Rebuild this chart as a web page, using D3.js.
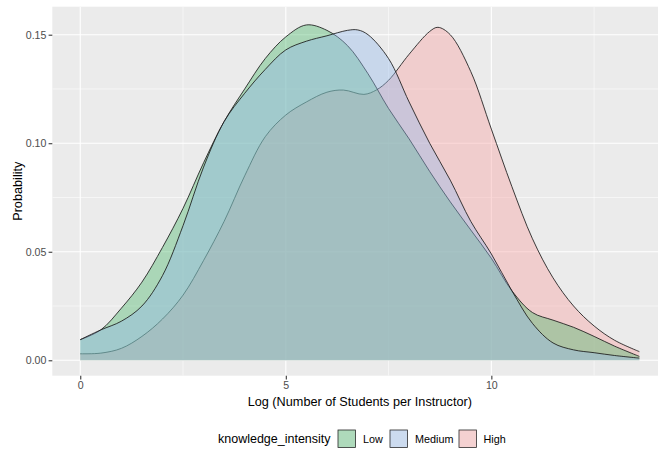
<!DOCTYPE html>
<html><head><meta charset="utf-8">
<script src="https://cdn.jsdelivr.net/npm/d3@7"></script>
<style>body{margin:0;background:#fff;} svg{display:block;font-family:"Liberation Sans",Arial,sans-serif;}</style>
</head><body><svg id="c" width="658" height="450"></svg>
<script>
// ---- data ----
const categories = ["Low", "Medium", "High"];
const drawOrder = ["High", "Low", "Medium"];
const fillColors = ["#48B669", "#94B9EB", "#F7A0A0"];

const lowX = [0, 0.5, 1.0, 1.5, 2.0, 2.5, 3.0, 3.5, 4.0, 4.5, 5.0, 5.5, 6.0, 6.5, 7.0, 7.5, 8.0, 8.5, 9.0, 9.5, 10.0, 10.5, 11.0, 11.5, 12.0, 12.5, 13.0, 13.6];
const lowY = [0.0095, 0.014, 0.024, 0.036, 0.052, 0.070, 0.091, 0.110, 0.125, 0.139, 0.149, 0.1545, 0.152, 0.145, 0.132, 0.116, 0.102, 0.087, 0.073, 0.060, 0.047, 0.032, 0.022, 0.0185, 0.0152, 0.011, 0.0065, 0.0018];

const mediumX = [0, 0.5, 1.0, 1.5, 2.0, 2.5, 3.0, 3.5, 4.0, 4.5, 5.0, 5.5, 6.0, 6.5, 6.75, 7.0, 7.5, 8.0, 8.5, 9.0, 9.5, 10.0, 10.5, 11.0, 11.5, 12.0, 12.5, 13.0, 13.6];
const mediumY = [0.0095, 0.014, 0.018, 0.025, 0.039, 0.062, 0.089, 0.110, 0.123, 0.134, 0.143, 0.147, 0.1495, 0.152, 0.1522, 0.150, 0.139, 0.119, 0.100, 0.083, 0.064, 0.049, 0.032, 0.017, 0.008, 0.0048, 0.0035, 0.0022, 0.001];

const highX = [0, 0.5, 1.0, 1.5, 2.0, 2.5, 3.0, 3.5, 4.0, 4.5, 5.0, 5.5, 6.0, 6.4, 6.9, 7.2, 7.5, 8.0, 8.5, 8.7, 9.0, 9.5, 10.0, 10.5, 11.0, 11.5, 12.0, 12.5, 13.0, 13.6];
const highY = [0.003, 0.0033, 0.0055, 0.011, 0.019, 0.030, 0.046, 0.064, 0.085, 0.103, 0.113, 0.119, 0.1235, 0.1245, 0.1225, 0.1245, 0.129, 0.141, 0.1515, 0.1534, 0.150, 0.133, 0.1065, 0.080, 0.056, 0.038, 0.025, 0.0158, 0.0092, 0.004];

const xTickValues = [0, 5, 10];
const xTickLabels = ["0", "5", "10"];
const xMinorValues = [2.5, 7.5, 12.5];
const yTickValues = [0, 0.05, 0.10, 0.15];
const yTickLabels = ["0.00", "0.05", "0.10", "0.15"];
const yMinorValues = [0.025, 0.075, 0.125];

const xTitle = "Log (Number of Students per Instructor)";
const yTitle = "Probability";
const legendTitle = "knowledge_intensity";

// ---- build ----
const series = {
  Low: lowX.map((v, i) => [v, lowY[i]]),
  Medium: mediumX.map((v, i) => [v, mediumY[i]]),
  High: highX.map((v, i) => [v, highY[i]])
};
const color = d3.scaleOrdinal(categories, fillColors);

const P = {left: 52.3, right: 667.3, top: 6.7, bottom: 375.7};
const x = d3.scaleLinear().domain([-0.68, 14.28]).range([P.left, P.right]);
const y = d3.scaleLinear().domain([-0.0071, 0.1629]).range([P.bottom, P.top]);

const svg = d3.select("#c");
svg.append("defs").append("clipPath").attr("id", "clip")
  .append("rect").attr("x", P.left).attr("y", P.top).attr("width", P.right - P.left).attr("height", P.bottom - P.top);

svg.append("rect").attr("x", P.left).attr("y", P.top).attr("width", P.right - P.left).attr("height", P.bottom - P.top).attr("fill", "#EBEBEB");

const grid = svg.append("g").attr("clip-path", "url(#clip)");
grid.selectAll(".xm").data(xMinorValues).join("line")
  .attr("x1", d => x(d)).attr("x2", d => x(d)).attr("y1", P.top).attr("y2", P.bottom)
  .attr("stroke", "#fff").attr("stroke-width", 0.55);
grid.selectAll(".ym").data(yMinorValues).join("line")
  .attr("y1", d => y(d)).attr("y2", d => y(d)).attr("x1", P.left).attr("x2", P.right)
  .attr("stroke", "#fff").attr("stroke-width", 0.55);
grid.selectAll(".xM").data(xTickValues).join("line")
  .attr("x1", d => x(d)).attr("x2", d => x(d)).attr("y1", P.top).attr("y2", P.bottom)
  .attr("stroke", "#fff").attr("stroke-width", 1.1);
grid.selectAll(".yM").data(yTickValues).join("line")
  .attr("y1", d => y(d)).attr("y2", d => y(d)).attr("x1", P.left).attr("x2", P.right)
  .attr("stroke", "#fff").attr("stroke-width", 1.1);

const curve = d3.curveCatmullRom.alpha(0.5);
const area = d3.area().x(d => x(d[0])).y0(y(0)).y1(d => y(d[1])).curve(curve);
const line = d3.line().x(d => x(d[0])).y(d => y(d[1])).curve(curve);

const marks = svg.append("g").attr("clip-path", "url(#clip)");
drawOrder.forEach(k => {
  marks.append("path").datum(series[k]).attr("d", area)
    .attr("fill", color(k)).attr("fill-opacity", 0.4);
  marks.append("path").datum(series[k]).attr("d", line)
    .attr("fill", "none").attr("stroke", "#1a1a1a").attr("stroke-width", 0.85);
});

// axes
const xAxis = d3.axisBottom(x).tickValues(xTickValues).tickFormat((d, i) => xTickLabels[i]).tickSize(3.7).tickPadding(2.2);
const gx = svg.append("g").attr("transform", `translate(0,${P.bottom})`).call(xAxis);
const yAxis = d3.axisLeft(y).tickValues(yTickValues).tickFormat((d, i) => yTickLabels[i]).tickSize(3.7).tickPadding(2.2);
const gy = svg.append("g").attr("transform", `translate(${P.left},0)`).call(yAxis);
[gx, gy].forEach(g => {
  g.select(".domain").remove();
  g.selectAll(".tick line").attr("stroke", "#333").attr("stroke-width", 1.07);
  g.selectAll(".tick text").attr("fill", "#4D4D4D").style("font-size", "10.6px").style("font-family", "Liberation Sans, Arial, sans-serif");
});

svg.append("text").attr("x", (P.left + P.right) / 2).attr("y", 405.5).attr("text-anchor", "middle")
  .style("font-size", "12.7px").attr("fill", "#000").text(xTitle);
svg.append("text").attr("transform", `translate(21.8,${(P.top + P.bottom) / 2}) rotate(-90)`).attr("text-anchor", "middle")
  .style("font-size", "12.7px").attr("fill", "#000").text(yTitle);

// legend
const lg = svg.append("g");
lg.append("text").attr("x", 218).attr("y", 443).style("font-size", "12.5px").attr("fill", "#000").text(legendTitle);
const keyX = [337.5, 389.5, 458.5];
const labX = [363, 415, 483.5];
categories.forEach((k, i) => {
  lg.append("rect").attr("x", keyX[i]).attr("y", 429.5).attr("width", 18.5).attr("height", 18.5).attr("fill", "#F2F2F2");
  lg.append("rect").attr("x", keyX[i] + 0.5).attr("y", 430).attr("width", 17.5).attr("height", 17.5)
    .attr("fill", color(k)).attr("fill-opacity", 0.4).attr("stroke", "#222").attr("stroke-width", 0.75);
  lg.append("text").attr("x", labX[i]).attr("y", 442.5).style("font-size", "10.8px").attr("fill", "#000").text(k);
});
</script></body></html>
